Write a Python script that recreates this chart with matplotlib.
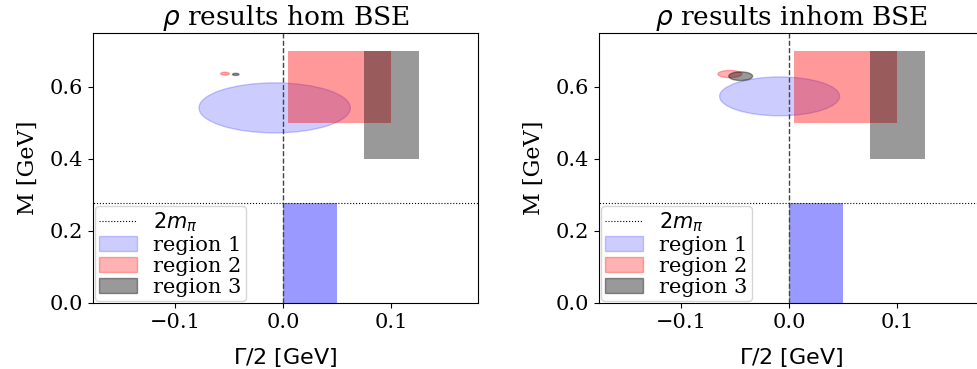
import numpy as np
import matplotlib
matplotlib.use("Agg")
import matplotlib.pyplot as plt
from matplotlib.patches import Ellipse, Rectangle

plt.rcParams['font.family'] = 'DejaVu Serif'
plt.rcParams['mathtext.fontset'] = 'dejavusans'

two_m_pi = 0.279

# rectangles: (x0, x1, y0, y1) for regions 1, 2, 3
region_boxes = [(0.0, 0.05, 0.0, 0.279),
                (0.004, 0.1, 0.5, 0.7),
                (0.075, 0.125, 0.4, 0.7)]
region_colors = ['blue', 'red', 'black']
region_labels = ['region 1', 'region 2', 'region 3']
ellipse_alpha = [0.2, 0.3, 0.4]

titles = [r'$\rho$ results hom BSE', r'$\rho$ results inhom BSE']

# ellipses per panel: (center x, center y, width, height) for regions 1, 2, 3
ellipses_hom = [(-0.008, 0.542, 0.14, 0.139),
                (-0.054, 0.637, 0.008, 0.008),
                (-0.044, 0.635, 0.006, 0.006)]
ellipses_inhom = [(-0.009, 0.574, 0.111, 0.108),
                  (-0.055, 0.636, 0.022, 0.02),
                  (-0.045, 0.630, 0.022, 0.024)]

fig = plt.figure(figsize=(9.77, 3.69), dpi=100)
W, H = 977, 369
positions = [(93, 66, 385, 270), (599, 66, 385, 270)]

for pos, title, ells in zip(positions, titles, [ellipses_hom, ellipses_inhom]):
    ax = fig.add_axes([pos[0] / W, pos[1] / H, pos[2] / W, pos[3] / H])
    ax.axvline(0.0, color='#444444', ls='--', lw=1)
    line, = ax.plot([-0.2, 0.2], [two_m_pi, two_m_pi], color='black', ls=':', lw=0.8, label=r'$2m_\pi$')

    handles = [line]
    for (cx, cy, w, h), col, lab, a in zip(ells, region_colors, region_labels, ellipse_alpha):
        e = Ellipse((cx, cy), w, h, color=col, alpha=a, label=lab)
        ax.add_patch(e)
        handles.append(e)
    for (x0, x1, y0, y1), col in zip(region_boxes, region_colors):
        ax.add_patch(Rectangle((x0, y0), x1 - x0, y1 - y0, color=col, alpha=0.4, lw=0))

    ax.set_xlim(-0.176, 0.18)
    ax.set_ylim(0, 0.75)
    ax.set_xticks([-0.1, 0.0, 0.1])
    ax.set_yticks([0.0, 0.2, 0.4, 0.6])
    ax.tick_params(labelsize=15)
    ax.set_title(title, fontsize=19)
    ax.set_xlabel(r'$\Gamma/2\ [\mathrm{GeV}]$', fontsize=16, labelpad=10)
    ax.set_ylabel('M [GeV]', fontsize=16, labelpad=8)
    ax.legend(handles=handles, loc='lower left', fontsize=15, borderpad=0.2,
              labelspacing=0.1, handlelength=1.8, borderaxespad=0.1, framealpha=0.8)

fig.savefig('out.png', dpi=100)
